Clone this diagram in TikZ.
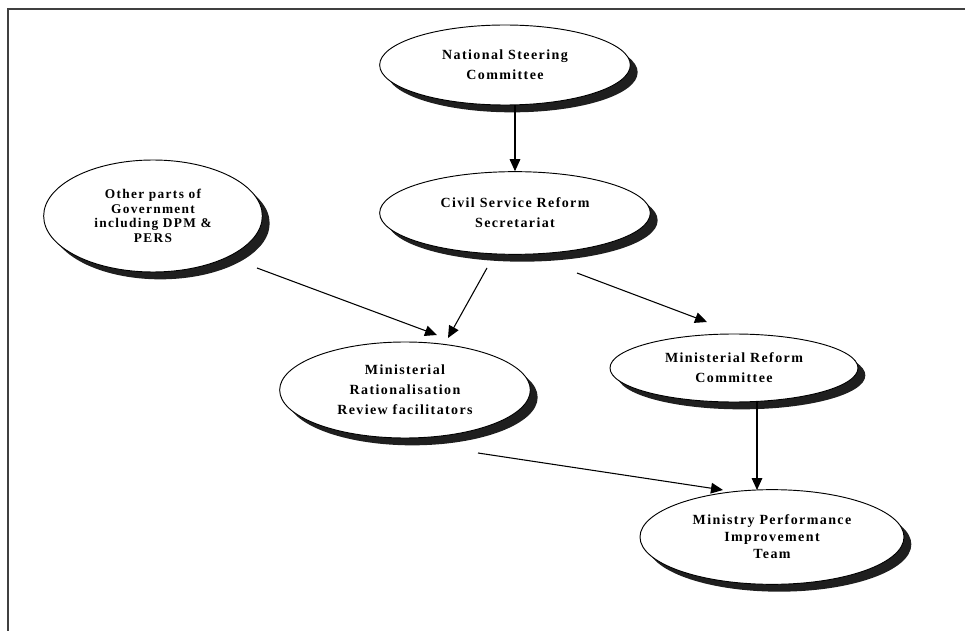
\documentclass[tikz,border=0pt]{standalone}
\usepackage{fontspec}
\setmainfont{Liberation Serif}[LetterSpace=10]
\usetikzlibrary{shapes.geometric,shadows,calc,arrows.meta}
\tikzset{
  org/.style={ellipse, draw=black, line width=0.7pt, fill=white, inner sep=0pt,
    align=center, font=\fontsize{10.5}{15}\selectfont\bfseries,
    drop shadow={shadow xshift=5.5pt, shadow yshift=-5.5pt, fill=black!88, opacity=1}},
  link/.style={draw=black, line width=0.8pt, -{Triangle[length=9pt,width=8pt]}},
  frameline/.style={draw=black!75, line width=1pt}
}
\begin{document}
\begin{tikzpicture}[x=0.75pt,y=-0.75pt]
\useasboundingbox (0,0) rectangle (965,631);
\coordinate (ftr) at (965,9);
\coordinate (ftl) at (8,9);
\coordinate (fbl) at (8,631);
\draw[frameline] (ftr) -- (ftl) -- (fbl);

\node[org, minimum width=188pt, minimum height=60pt] (nsc) at (505,65) {National Steering\\Committee};
\node[org, minimum width=203pt, minimum height=62pt] (csrs) at (515,213) {Civil Service Reform\\Secretariat};
\node[org, minimum width=164pt, minimum height=84pt, font=\fontsize{10}{11}\selectfont\bfseries] (other) at (153,216) {Other parts of\\Government\\including DPM \&\\PERS};
\node[org, minimum width=188pt, minimum height=72pt] (mrr) at (405,390) {Ministerial\\Rationalisation\\Review facilitators};
\node[org, minimum width=186pt, minimum height=51pt] (mrc) at (734,368) {Ministerial Reform\\Committee};
\node[org, minimum width=198pt, minimum height=71pt, font=\fontsize{10.5}{12.8}\selectfont\bfseries] (mpit) at (772,537) {Ministry Performance\\Improvement\\Team};

\draw[link] (nsc.south -| csrs.north) -- (csrs.north);
\draw[link] ($(csrs.center)+(-28,55)$) -- ($(mrr.center)+(43,-52)$);
\draw[link] ($(csrs.center)+(62,60)$) -- ($(mrc.center)+(-27,-46)$);
\draw[link] ($(other.center)+(104,52)$) -- ($(mrr.center)+(32,-55)$);
\draw[link] ($(mrc.center)+(23,34)$) -- ($(mpit.center)+(-15,-47)$);
\draw[link] ($(mrr.center)+(73,63)$) -- ($(mpit.center)+(-49,-47)$);
\end{tikzpicture}
\end{document}
